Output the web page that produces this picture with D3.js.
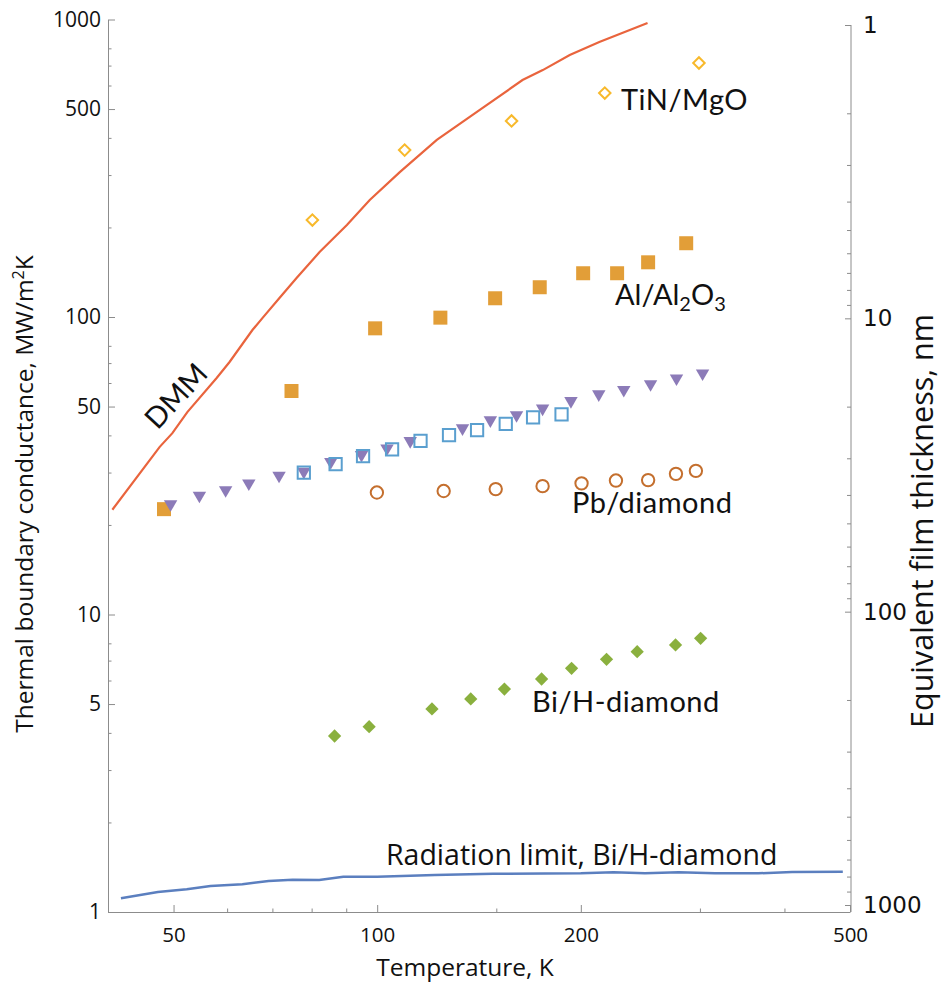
<!DOCTYPE html>
<html>
<head>
<meta charset="utf-8">
<script src="https://cdn.jsdelivr.net/npm/d3@7"></script>
<style>
  html, body { margin: 0; padding: 0; background: #fff; }
  svg { display: block; }
  .ax text { fill: #111; }
</style>
</head>
<body>
<svg id="chart" width="945" height="984"></svg>
<script>
// Temperature (K) and thermal boundary conductance (MW/m^2K) for each series

// Diffuse mismatch model curve
const dmmT = [40.6, 47.7, 49.8, 52.4, 57.9, 60.5, 65.4, 67.7, 71.7, 76.0, 82.2, 90.2, 97.5, 108, 122.5, 141.8, 164, 175.7, 192.6, 213, 251];
const dmmG = [22.5, 36.6, 40.7, 47.9, 62.4, 70.6, 90.4, 99.3, 115.8, 135.3, 165.3, 203.8, 247.3, 307, 393.7, 496.5, 626, 676, 760, 840, 973];

// TiN/MgO
const tinT = [80.2, 109.8, 158, 217, 299];
const tinG = [211.8, 364, 456, 566, 714];

// Al/Al2O3
const alT = [48.4, 74.7, 99.3, 124, 149.4, 173.9, 201.6, 226.3, 251.5, 286.3];
const alG = [22.6, 56.4, 91.6, 99.5, 115.6, 125.9, 140.3, 140.3, 152.7, 177];

// Purple triangles
const triT = [49.5, 54.6, 59.7, 64.6, 71.6, 77.9, 85.4, 94.8, 103.4, 111.9, 133.7, 147, 160.7, 175.6, 193.4, 212.6, 231.5, 253.6, 277, 302.7];
const triG = [23.5, 25.1, 26.2, 27.6, 29.3, 30.2, 32.6, 34.4, 36.2, 38.3, 42.3, 45.0, 46.8, 49.3, 52.2, 55.0, 56.9, 59.5, 62.2, 64.7];

// Blue open squares
const sqT = [77.9, 86.8, 95.3, 105.2, 115.9, 127.7, 140.5, 154.9, 170, 187.3];
const sqG = [30.0, 32.0, 34.1, 35.9, 38.3, 40.1, 41.7, 43.7, 46.0, 47.1];

// Pb/diamond
const pbT = [99.9, 125.4, 149.7, 175.6, 200.5, 225.4, 251.5, 276.5, 295.9];
const pbG = [25.7, 26.0, 26.4, 27.0, 27.6, 28.2, 28.3, 29.7, 30.4];

// Bi/H-diamond
const biT = [86.5, 97.3, 120.5, 137.5, 154.2, 175, 193.8, 218.3, 242.3, 276.1, 300.7];
const biG = [3.905, 4.196, 4.814, 5.20, 5.617, 6.07, 6.594, 7.07, 7.50, 7.90, 8.32];

// Radiation limit, Bi/H-diamond
const radT = [41.8, 47.4, 52.3, 56.7, 63.2, 69.1, 75.0, 82.1, 89.1, 100, 121.7, 148.3, 200, 223.6, 248.8, 279, 315.7, 365.9, 410.6, 487.9];
const radG = [1.112, 1.167, 1.192, 1.223, 1.239, 1.271, 1.284, 1.281, 1.314, 1.314, 1.331, 1.345, 1.349, 1.360, 1.349, 1.360, 1.349, 1.349, 1.363, 1.366];

// Axis ticks
const xMajor = [50, 100, 200, 500];
const xMinor = [60, 70, 80, 90, 150, 300, 400];
const yMajor = [1, 5, 10, 50, 100, 500, 1000];
const yMinor = [2, 3, 4, 6, 7, 8, 20, 30, 40, 60, 70, 80, 200, 300, 400, 600, 700, 800];
const y2Major = [1, 10, 100, 1000];
const y2Minor = [2, 3, 4, 5, 6, 7, 8, 9, 20, 30, 40, 50, 60, 70, 80, 90, 200, 300, 400, 500, 600, 700, 800, 900];

const zip = (a, b) => a.map((v, i) => [v, b[i]]);

const svg = d3.select("#chart");
const x = d3.scaleLog().domain([40, 500]).range([108, 850]);
const y = d3.scaleLog().domain([1, 1000]).range([912, 19.5]);
const y2 = d3.scaleLog().domain([1, 1000]).range([25, 905]);

const axisColor = "#8c8c8c";
const tickFont = "'Open Sans', sans-serif";

function styleAxis(g) {
  g.selectAll("path.domain").attr("stroke", axisColor);
  g.selectAll(".tick line").attr("stroke", axisColor);
}

// Bottom axis
const gx = svg.append("g").attr("class", "ax").attr("transform", "translate(0,912)")
  .call(d3.axisBottom(x).tickValues(xMajor).tickFormat(d3.format("d"))
    .tickSizeInner(-7).tickSizeOuter(0).tickPadding(15));
gx.selectAll("text").attr("font-family", tickFont).attr("font-size", 20.5);
styleAxis(gx);
const gxm = svg.append("g").attr("transform", "translate(0,912)")
  .call(d3.axisBottom(x).tickValues(xMinor).tickFormat("").tickSizeInner(-3.5).tickSizeOuter(0));
gxm.select("path.domain").remove();
styleAxis(gxm);

// Left axis
const gy = svg.append("g").attr("class", "ax").attr("transform", "translate(108,0)")
  .call(d3.axisLeft(y).tickValues(yMajor).tickFormat(d3.format("d"))
    .tickSizeInner(-7).tickSizeOuter(0).tickPadding(7));
gy.selectAll("text").attr("font-family", tickFont).attr("font-size", 21);
styleAxis(gy);
const gym = svg.append("g").attr("transform", "translate(108,0)")
  .call(d3.axisLeft(y).tickValues(yMinor).tickFormat("").tickSizeInner(-3.5).tickSizeOuter(0));
gym.select("path.domain").remove();
styleAxis(gym);

// Right axis: equivalent film thickness
const gy2 = svg.append("g").attr("class", "ax").attr("transform", "translate(851,0)")
  .call(d3.axisRight(y2).tickValues(y2Major).tickFormat(d3.format("d"))
    .tickSizeInner(-6).tickSizeOuter(0).tickPadding(12));
gy2.select("path.domain").remove();
gy2.selectAll("text").attr("font-family", "'DejaVu Sans', sans-serif").attr("font-size", 23);
styleAxis(gy2);
const gy2m = svg.append("g").attr("transform", "translate(851,0)")
  .call(d3.axisRight(y2).tickValues(y2Minor).tickFormat("").tickSizeInner(-4).tickSizeOuter(0));
gy2m.select("path.domain").remove();
styleAxis(gy2m);
svg.append("line").attr("x1", 851).attr("x2", 851).attr("y1", y2(1)).attr("y2", y(1))
  .attr("stroke", axisColor);

// Axis titles
svg.append("text").attr("x", 465).attr("y", 976).attr("text-anchor", "middle")
  .attr("font-family", tickFont).attr("font-size", 24.5).attr("fill", "#111")
  .text("Temperature, K");

const lt = svg.append("text").attr("transform", "translate(33,494) rotate(-90)")
  .attr("text-anchor", "middle").attr("font-family", tickFont).attr("font-size", 24.5).attr("fill", "#111");
lt.append("tspan").text("Thermal boundary conductance, MW/m");
lt.append("tspan").attr("dy", -9).attr("font-size", 16).text("2");
lt.append("tspan").attr("dy", 9).text("K");

svg.append("text").attr("transform", "translate(933,521) rotate(-90)")
  .attr("text-anchor", "middle").attr("font-family", tickFont).attr("font-size", 30.5).attr("fill", "#111")
  .text("Equivalent film thickness, nm");

// Curves
const line = d3.line().x(d => x(d[0])).y(d => y(d[1]));
svg.append("path").datum(zip(dmmT, dmmG)).attr("d", line)
  .attr("fill", "none").attr("stroke", "#E9643D").attr("stroke-width", 2.2);
svg.append("path").datum(zip(radT, radG)).attr("d", line)
  .attr("fill", "none").attr("stroke", "#5B7FBF").attr("stroke-width", 2.5);

// Markers
function markers(data, type, size, rot, fill, stroke, sw) {
  svg.append("g").selectAll("path").data(data).join("path")
    .attr("transform", d => `translate(${x(d[0])},${y(d[1])}) rotate(${rot})`)
    .attr("d", d3.symbol().type(type).size(size)())
    .attr("fill", fill).attr("stroke", stroke).attr("stroke-width", sw);
}
markers(zip(alT, alG), d3.symbolSquare, 196, 0, "#E29E38", "none", 0);
markers(zip(pbT, pbG), d3.symbolCircle, 120, 0, "none", "#C46F2E", 2);
markers(zip(triT, triG), d3.symbolTriangle, 78, 180, "#8C7BB8", "none", 0);
markers(zip(sqT, sqG), d3.symbolSquare, 150, 0, "none", "#5A9FCF", 2);
markers(zip(tinT, tinG), d3.symbolSquare, 66, 45, "none", "#F8B92B", 2);
markers(zip(biT, biG), d3.symbolSquare, 88, 45, "#8AB03E", "none", 0);

// Series labels
const labFont = "Lato, 'Open Sans', sans-serif";
function label(tx, ty, txt, size) {
  return svg.append("text").attr("x", tx).attr("y", ty)
    .attr("font-family", labFont).attr("font-size", size || 29).attr("letter-spacing", 0.5)
    .attr("fill", "#111").text(txt);
}
label(621, 110, "TiN/MgO");
const al = svg.append("text").attr("x", 615).attr("y", 305)
  .attr("font-family", labFont).attr("font-size", 29).attr("fill", "#111");
al.append("tspan").text("Al/Al");
al.append("tspan").attr("dy", 6).attr("font-size", 20).text("2");
al.append("tspan").attr("dy", -6).text("O");
al.append("tspan").attr("dy", 6).attr("font-size", 20).text("3");
label(572, 513, "Pb/diamond");
label(532, 712, "Bi/H-diamond");
svg.append("text").attr("x", 386).attr("y", 865)
  .attr("font-family", tickFont).attr("font-size", 28.5).attr("fill", "#111")
  .text("Radiation limit, Bi/H-diamond");
svg.append("text").attr("transform", "translate(176,396) rotate(-47)")
  .attr("text-anchor", "middle").attr("dy", "0.35em")
  .attr("font-family", labFont).attr("font-size", 29).attr("fill", "#111").text("DMM");
</script>
</body>
</html>
